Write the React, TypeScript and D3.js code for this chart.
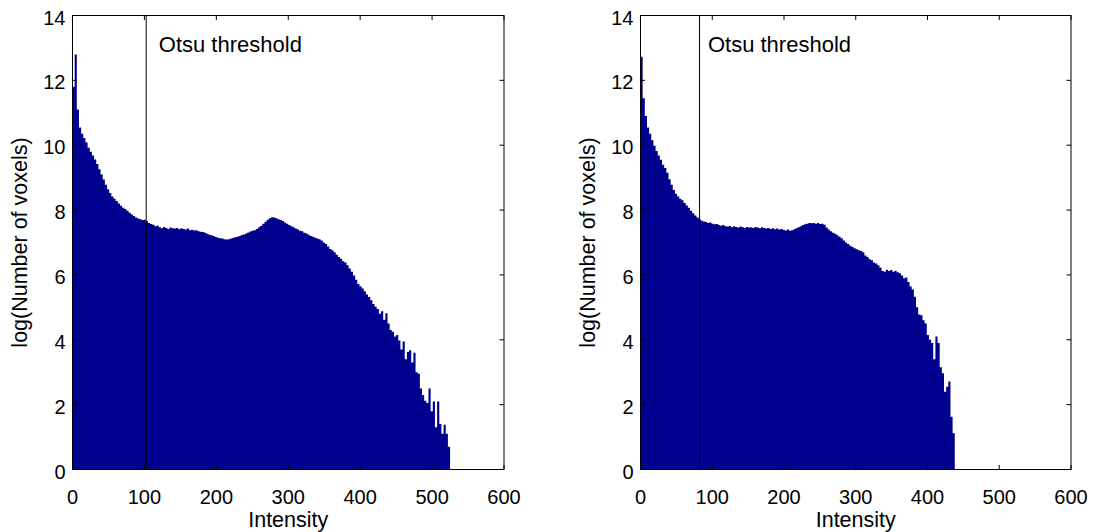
import React from 'react';
import * as d3 from 'd3';

// Histogram bins: each bin covers [i*BIN_WIDTH, (i+1)*BIN_WIDTH) intensity units
const BIN_WIDTH = 3;

const leftCounts = [
  11.8, 12.8, 11.1, 10.55, 10.35, 10.22, 10.08, 9.92, 9.8, 9.68,
  9.56, 9.42, 9.26, 9.1, 8.94, 8.78, 8.64, 8.53, 8.42, 8.35,
  8.28, 8.2, 8.13, 8.07, 8.03, 7.98, 7.92, 7.86, 7.82, 7.77,
  7.74, 7.72, 7.69, 7.7, 7.66, 7.6, 7.57, 7.55, 7.5, 7.52,
  7.47, 7.44, 7.48, 7.45, 7.42, 7.46, 7.44, 7.43, 7.45, 7.41,
  7.44, 7.42, 7.4, 7.43, 7.38, 7.39, 7.37, 7.38, 7.35, 7.33,
  7.32, 7.3, 7.27, 7.24, 7.22, 7.2, 7.17, 7.15, 7.13, 7.12,
  7.1, 7.09, 7.1, 7.12, 7.14, 7.16, 7.18, 7.2, 7.23, 7.25,
  7.28, 7.31, 7.34, 7.36, 7.38, 7.42, 7.47, 7.52, 7.58, 7.64,
  7.7, 7.75, 7.78, 7.77, 7.75, 7.72, 7.69, 7.66, 7.62, 7.58,
  7.54, 7.5, 7.47, 7.43, 7.4, 7.36, 7.35, 7.3, 7.28, 7.24,
  7.2, 7.18, 7.15, 7.12, 7.1, 7.06, 7.0, 6.95, 6.88, 6.8,
  6.76, 6.7, 6.62, 6.55, 6.5, 6.42, 6.38, 6.3, 6.2, 6.1,
  5.98, 5.85, 5.72, 5.65, 5.58, 5.5, 5.4, 5.32, 5.22, 5.1,
  5.02, 4.95, 4.8, 4.88, 4.62, 4.82, 4.5, 4.3, 4.25, 4.1,
  4.15, 3.98, 3.7, 3.95, 3.4, 3.62, 3.68, 3.3, 3.6, 3.0,
  2.95, 2.5, 2.3, 2.12, 2.05, 2.5, 1.8, 2.1, 1.3, 2.1,
  1.4, 1.1, 1.38, 1.1, 0.7,
];

const rightCounts = [
  12.73, 11.45, 10.9, 10.55, 10.35, 10.15, 9.98, 9.82, 9.68, 9.55,
  9.4, 9.3, 9.15, 8.95, 8.78, 8.62, 8.5, 8.42, 8.35, 8.3,
  8.22, 8.14, 8.07, 7.98, 7.9, 7.83, 7.77, 7.72, 7.67, 7.65,
  7.63, 7.6, 7.62, 7.58, 7.56, 7.57, 7.54, 7.52, 7.54, 7.5,
  7.49, 7.51, 7.47, 7.5, 7.48, 7.46, 7.49, 7.47, 7.45, 7.48,
  7.46, 7.47, 7.45, 7.48, 7.46, 7.44, 7.47, 7.45, 7.43, 7.45,
  7.42, 7.44, 7.41, 7.43, 7.4, 7.42, 7.39, 7.37, 7.4, 7.36,
  7.38, 7.41, 7.44, 7.47, 7.5, 7.54, 7.56, 7.58, 7.6, 7.59,
  7.6, 7.58, 7.6, 7.57, 7.58, 7.55, 7.46, 7.4, 7.35, 7.3,
  7.27, 7.22, 7.18, 7.13, 7.06, 7.0, 6.95, 6.9, 6.86, 6.82,
  6.79, 6.76, 6.74, 6.7, 6.6, 6.55, 6.48, 6.45, 6.38, 6.35,
  6.3, 6.22, 6.12, 6.1, 6.16, 6.12, 6.15, 6.1, 6.13, 6.08,
  6.05, 5.98, 5.9, 5.92, 5.78, 5.64, 5.55, 5.33, 5.0, 4.78,
  4.76, 4.6, 4.5, 4.15, 4.0, 3.9, 3.4, 4.1, 3.9, 3.15,
  2.97, 2.4, 2.55, 2.71, 1.63, 1.12,
];

const xTicks = [0, 100, 200, 300, 400, 500, 600];
const yTicks = [0, 2, 4, 6, 8, 10, 12, 14];
const thresholds = [102.5, 82.3];
const annotationX = [120, 94];
const annotationText = 'Otsu threshold';
const xLabel = 'Intensity';
const yLabel = 'log(Number of voxels)';

const FONT = '"Liberation Sans", Arial, Helvetica, sans-serif';
const BAR_COLOR = '#00008F';

type PanelProps = {
  left: number;
  right: number;
  top: number;
  bottom: number;
  values: number[];
  threshold: number;
  annX: number;
  yLabelX: number;
};

function Panel({ left, right, top, bottom, values, threshold, annX, yLabelX }: PanelProps) {
  const x = d3.scaleLinear().domain([0, 600]).range([left, right]);
  const y = d3.scaleLinear().domain([0, 14]).range([bottom, top]);
  const pts: [number, number][] = values.map((v, i) => [i * BIN_WIDTH, v]);
  pts.push([values.length * BIN_WIDTH, values[values.length - 1]]);
  const area = d3
    .area<[number, number]>()
    .x((d) => x(d[0]))
    .y0(y(0))
    .y1((d) => y(d[1]))
    .curve(d3.curveStepAfter);
  const tl = 4.5;
  return (
    <g>
      <path d={area(pts) || ''} fill={BAR_COLOR} stroke="none" />
      <line x1={x(threshold)} x2={x(threshold)} y1={top} y2={bottom} stroke="#000" strokeWidth={1} />
      <rect x={left} y={top} width={right - left} height={bottom - top} fill="none" stroke="#000" strokeWidth={1} />
      {xTicks.map((t) => (
        <g key={'x' + t}>
          <line x1={x(t)} x2={x(t)} y1={bottom} y2={bottom - tl} stroke="#000" />
          <line x1={x(t)} x2={x(t)} y1={top} y2={top + tl} stroke="#000" />
          <text x={x(t)} y={bottom + 34} textAnchor="middle" fontSize={20} fontFamily={FONT} fill="#000">
            {t}
          </text>
        </g>
      ))}
      {yTicks.map((t) => (
        <g key={'y' + t}>
          <line x1={left} x2={left + tl} y1={y(t)} y2={y(t)} stroke="#000" />
          <line x1={right} x2={right - tl} y1={y(t)} y2={y(t)} stroke="#000" />
          <text x={left - 7} y={y(t) + 9} textAnchor="end" fontSize={20} fontFamily={FONT} fill="#000">
            {t}
          </text>
        </g>
      ))}
      <text x={x(annX)} y={y(12.86)} fontSize={22} fontFamily={FONT} fill="#000">
        {annotationText}
      </text>
      <text x={(left + right) / 2} y={bottom + 57} textAnchor="middle" fontSize={21.5} fontFamily={FONT} fill="#000">
        {xLabel}
      </text>
      <text
        transform={`translate(${yLabelX},${(top + bottom) / 2}) rotate(-90)`}
        textAnchor="middle"
        fontSize={21.5}
        fontFamily={FONT}
        fill="#000"
      >
        {yLabel}
      </text>
    </g>
  );
}

export default function App() {
  return (
    <svg
      width={1098}
      height={532}
      style={{ position: 'absolute', left: 0, top: 0, background: '#fff' }}
    >
      <rect x={0} y={0} width={1098} height={532} fill="#fff" />
      <Panel
        left={72.5}
        right={504}
        top={15.5}
        bottom={469.5}
        values={leftCounts}
        threshold={thresholds[0]}
        annX={annotationX[0]}
        yLabelX={27}
      />
      <Panel
        left={640.5}
        right={1071}
        top={15.5}
        bottom={469.5}
        values={rightCounts}
        threshold={thresholds[1]}
        annX={annotationX[1]}
        yLabelX={595}
      />
    </svg>
  );
}
